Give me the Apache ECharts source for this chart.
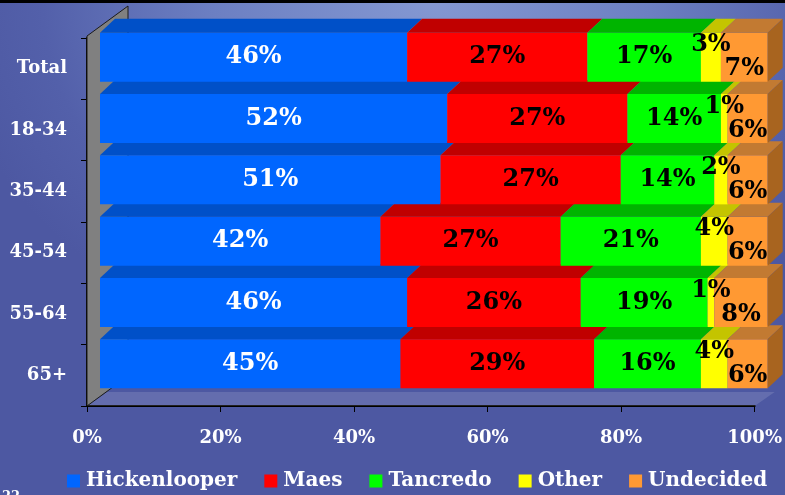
<!DOCTYPE html>
<html>
<head>
<meta charset="utf-8">
<script src="https://cdn.jsdelivr.net/npm/echarts@6/dist/echarts.min.js"></script>
<style>
  html, body { margin: 0; padding: 0; }
  #wrap {
    width: 785px; height: 495px; position: relative; overflow: hidden;
    background: radial-gradient(ellipse 62% 75% at 55% 0%, #8498d2 0%, #6c7fc2 45%, #5360aa 80%, #4d58a2 100%);
  }
  #topline { position: absolute; left: 0; top: 0; width: 785px; height: 3px; background: #000; }
  #chart { width: 785px; height: 495px; }
</style>
</head>
<body>
<div id="wrap">
  <div id="chart"></div>
  <div id="topline"></div>
</div>
<script>
// 年龄段 x 候选人（百分比）
const categories = ['Total', '18-34', '35-44', '45-54', '55-64', '65+'];
const hickenlooper = [46, 52, 51, 42, 46, 45];
const maes = [27, 27, 27, 27, 26, 29];
const tancredo = [17, 14, 14, 21, 19, 16];
const other = [3, 1, 2, 4, 1, 4];
const undecided = [7, 6, 6, 6, 8, 6];
const xTicks = [0, 20, 40, 60, 80, 100];

const FONT = '"DejaVu Serif"';
const DX = 13;      // front face shift
const LIFT = 11.5;  // front face shift up
const DEPTH = [15, -14];

const groups = [
  { name: 'Hickenlooper', values: hickenlooper, front: '#0066ff', top: '#0050c8', label: '#fff', dy: 0 },
  { name: 'Maes', values: maes, front: '#ff0000', top: '#c00000', label: '#000', dy: 0 },
  { name: 'Tancredo', values: tancredo, front: '#00ff00', top: '#00b400', label: '#000', dy: 0 },
  { name: 'Other', values: other, front: '#ffff00', top: '#c4c400', label: '#000', dy: -12 },
  { name: 'Undecided', values: undecided, front: '#ff9933', top: '#c27a32', label: '#000', dy: 12, side: '#a8641f' }
];

// 累加起点
const starts = categories.map(() => 0);
const seriesList = groups.map((g) => {
  const data = g.values.map((v, i) => {
    const s = starts[i];
    starts[i] += v;
    return [i, s, s + v, v];
  });
  return {
    type: 'custom',
    name: g.name,
    itemStyle: { color: g.front },
    encode: { x: [1, 2], y: 0 },
    clip: false,
    data: data,
    renderItem: (params, api) => {
      const cat = api.value(0);
      const p0 = api.coord([api.value(1), cat]);
      const p1 = api.coord([api.value(2), cat]);
      const band = api.size([0, 1])[1];
      const h = band * 0.8;
      const x0 = p0[0] + DX, x1 = p1[0] + DX;
      const yt = p0[1] - LIFT - h / 2, yb = yt + h;
      const z = (10 - cat) * 10;
      const children = [
        { type: 'rect', z2: z, shape: { x: x0, y: yt, width: x1 - x0, height: h }, style: { fill: g.front } },
        { type: 'polygon', z2: z, shape: { points: [[x0, yt], [x1, yt], [x1 + DEPTH[0], yt + DEPTH[1]], [x0 + DEPTH[0], yt + DEPTH[1]]] }, style: { fill: g.top } }
      ];
      if (g.side) {
        children.push({ type: 'polygon', z2: z, shape: { points: [[x1, yt], [x1 + DEPTH[0], yt + DEPTH[1]], [x1 + DEPTH[0], yb + DEPTH[1]], [x1, yb]] }, style: { fill: g.side } });
      }
      children.push({
        type: 'text', z2: 1000,
        style: {
          text: api.value(3) + '%', x: (x0 + x1) / 2, y: (yt + yb) / 2 + g.dy,
          align: 'center', verticalAlign: 'middle', fill: g.label,
          font: 'bold 24px ' + FONT
        }
      });
      return { type: 'group', children: children };
    }
  };
});

// 左侧墙和底面
seriesList.unshift({
  type: 'custom',
  name: 'frame',
  silent: true,
  clip: false,
  encode: { x: 1, y: 0 },
  data: [[0, 0]],
  renderItem: (params, api) => {
    const band = api.size([0, 1])[1];
    const a = api.coord([0, 0]);
    const b = api.coord([100, categories.length - 1]);
    const x = a[0], yTop = a[1] - band / 2 - 2, yBot = b[1] + band / 2, xr = b[0];
    return {
      type: 'group',
      children: [
        { type: 'polygon', z2: 0, shape: { points: [[x, yBot], [xr, yBot], [xr + 20, yBot - 14], [x + 20, yBot - 14]] }, style: { fill: 'rgba(255,255,255,0.13)' } },
        { type: 'polygon', z2: 1, shape: { points: [[x, yBot], [x, yTop], [x + 41, yTop - 30], [x + 41, yBot - 30]] }, style: { fill: '#808080', stroke: '#1a1a1a', lineWidth: 1 } }
      ]
    };
  }
});

const chart = echarts.init(document.getElementById('chart'), null, { renderer: 'canvas' });
chart.setOption({
  animation: false,
  grid: { left: 87, right: 30, top: 38, bottom: 89, containLabel: false },
  legend: {
    data: groups.map(g => g.name),
    left: 62, top: 466,
    icon: 'rect', itemWidth: 13, itemHeight: 13, itemGap: 27,
    textStyle: { color: '#fff', fontFamily: FONT, fontWeight: 'bold', fontSize: 20, padding: [0, 0, 0, 1] }
  },
  xAxis: {
    type: 'value', min: xTicks[0], max: xTicks[xTicks.length - 1], interval: 20,
    splitLine: { show: false },
    axisLine: { show: true, lineStyle: { color: '#000', width: 2 } },
    axisTick: { show: true, length: 6, lineStyle: { color: '#000' } },
    axisLabel: { color: '#fff', fontFamily: FONT, fontWeight: 'bold', fontSize: 18, margin: 23, formatter: '{value}%' }
  },
  yAxis: {
    type: 'category', data: categories, inverse: true,
    axisLine: { show: true, lineStyle: { color: '#000', width: 2 } },
    axisTick: { show: true, length: 6, lineStyle: { color: '#000' } },
    axisLabel: { color: '#fff', fontFamily: FONT, fontWeight: 'bold', fontSize: 18, margin: 20 }
  },
  graphic: [
    { type: 'text', left: 2, top: 490, style: { text: '22', fill: '#fff', font: 'bold 13px ' + FONT } }
  ],
  series: seriesList
});
</script>
</body>
</html>
